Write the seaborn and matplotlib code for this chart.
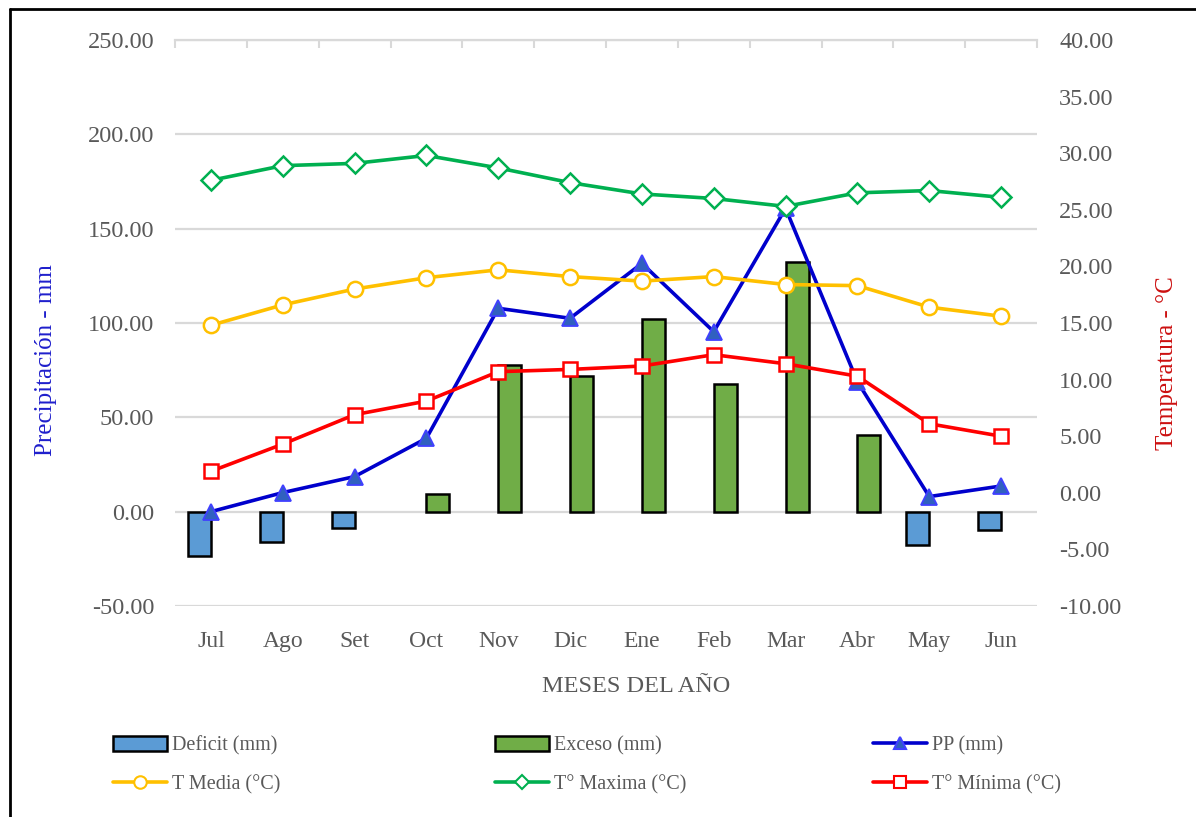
import numpy as np
import pandas as pd
import matplotlib.pyplot as plt
import seaborn as sns
from matplotlib.lines import Line2D
from matplotlib.patches import Patch
from matplotlib.ticker import FuncFormatter

meses = ["Jul", "Ago", "Set", "Oct", "Nov", "Dic", "Ene", "Feb", "Mar", "Abr", "May", "Jun"]
deficit = [-23.5, -16.0, -8.7, np.nan, np.nan, np.nan, np.nan, np.nan, np.nan, np.nan, -17.6, -9.7]
exceso = [np.nan, np.nan, np.nan, 9.2, 77.7, 72.1, 102.1, 67.5, 132.2, 40.6, np.nan, np.nan]
pp = [0.0, 10.1, 18.6, 38.9, 107.8, 102.5, 131.6, 95.4, 160.8, 68.9, 8.0, 13.6]
t_media = [14.8, 16.6, 18.0, 19.0, 19.7, 19.1, 18.7, 19.1, 18.4, 18.3, 16.4, 15.6]
t_max = [27.6, 28.9, 29.1, 29.8, 28.7, 27.4, 26.4, 26.0, 25.3, 26.5, 26.7, 26.1]
t_min = [1.9, 4.3, 6.9, 8.1, 10.7, 10.9, 11.2, 12.2, 11.4, 10.3, 6.1, 5.0]

C_DEF, C_EXC = "#5B9BD5", "#70AD47"
C_PP, C_MED, C_MAX, C_MIN = "#0000CC", "#FFC000", "#00B050", "#FF0000"
GRID = "#D9D9D9"
TXT = "#595959"

sns.set_style("white")
plt.rcParams["font.family"] = ["Liberation Serif", "DejaVu Serif"]

# missing months become 0-height bars, hidden after drawing so dodge stays fixed
bars = pd.concat([
    pd.DataFrame({"Mes": meses, "Serie": "Deficit (mm)", "Valor": deficit}),
    pd.DataFrame({"Mes": meses, "Serie": "Exceso (mm)", "Valor": exceso}),
]).fillna(0)

fig = plt.figure(figsize=(11.96, 8.17), dpi=100)
ax = fig.add_axes([175 / 1196, 1 - 606 / 817, 862 / 1196, 566 / 817])

sns.barplot(data=bars, x="Mes", y="Valor", hue="Serie", order=meses,
            hue_order=["Deficit (mm)", "Exceso (mm)"], palette=[C_DEF, C_EXC],
            saturation=1, width=0.64, edgecolor="black", linewidth=1.8, errorbar=None,
            legend=False, ax=ax)
for p in ax.patches:
    if p.get_height() == 0:
        p.set_visible(False)

x = np.arange(len(meses))
sns.lineplot(x=x, y=pp, ax=ax, color=C_PP, linewidth=2.6, marker="^", markersize=11,
             markerfacecolor="#3060C0", markeredgecolor="#4040FF", markeredgewidth=1.3, zorder=5)

ax.set_xlim(-0.5, 11.5)
ax.set_ylim(-50, 250)
ax.set_yticks(np.arange(-50, 251, 50))
ax.yaxis.set_major_formatter(FuncFormatter(lambda v, p: f"{v:.2f}"))
ax.yaxis.grid(True, color=GRID, linewidth=1.6)
ax.set_axisbelow(True)
for s in ax.spines.values():
    s.set_visible(False)
ax.tick_params(axis="y", length=0, pad=15, labelsize=17.5, labelcolor=TXT)
ax.tick_params(axis="x", length=0, pad=18, labelsize=17, labelcolor=TXT)
ax.set_ylabel("")
ax.set_xlabel("MESES DEL AÑO", fontsize=17.5, color=TXT)
ax.xaxis.set_label_coords((636 - 175) / 862, -0.124)

top = ax.secondary_xaxis("top")
top.set_xticks(np.arange(-0.5, 12, 1))
top.tick_params(direction="in", length=6, width=1.5, color=GRID, labeltop=False)
top.spines["top"].set_color(GRID)
top.spines["top"].set_linewidth(1.6)

ax2 = ax.twinx()
sns.lineplot(x=x, y=t_media, ax=ax2, color=C_MED, linewidth=2.6, marker="o", markersize=11,
             markerfacecolor="white", markeredgecolor=C_MED, markeredgewidth=1.8)
sns.lineplot(x=x, y=t_max, ax=ax2, color=C_MAX, linewidth=2.6, marker="D", markersize=10,
             markerfacecolor="white", markeredgecolor=C_MAX, markeredgewidth=1.8)
sns.lineplot(x=x, y=t_min, ax=ax2, color=C_MIN, linewidth=2.6, marker="s", markersize=10,
             markerfacecolor="white", markeredgecolor=C_MIN, markeredgewidth=1.8)
ax2.set_ylim(-10, 40)
ax2.set_yticks(np.arange(-10, 41, 5))
ax2.yaxis.set_major_formatter(FuncFormatter(lambda v, p: f"{v:.2f}"))
ax2.grid(False)
for s in ax2.spines.values():
    s.set_visible(False)
ax2.tick_params(axis="y", length=0, pad=16, labelsize=17.5, labelcolor=TXT)
ax2.set_ylabel("")

fig.text(46 / 1196, 1 - 360 / 817, "Precipitación - mm", rotation=90, ha="center", va="center",
         fontsize=18, color="#1F1FCC")
fig.text(1167 / 1196, 1 - 363 / 817, "Temperatura - °C", rotation=90, ha="center", va="center",
         fontsize=18, color="#CC1010")

# legend, three columns of two rows
def line_handle(c, m, face, edge, ms):
    return Line2D([], [], color=c, linewidth=2.6, marker=m, markersize=ms,
                  markerfacecolor=face, markeredgecolor=edge, markeredgewidth=1.5)

cols = [
    (113, [Patch(facecolor=C_DEF, edgecolor="black", linewidth=1.8),
           line_handle(C_MED, "o", "white", C_MED, 9)], ["Deficit (mm)", "T Media (°C)"]),
    (495, [Patch(facecolor=C_EXC, edgecolor="black", linewidth=1.8),
           line_handle(C_MAX, "D", "white", C_MAX, 7)], ["Exceso (mm)", "T° Maxima (°C)"]),
    (873, [line_handle(C_PP, "^", "#3060C0", "#4040FF", 9),
           line_handle(C_MIN, "s", "white", C_MIN, 8)], ["PP (mm)", "T° Mínima (°C)"]),
]
for xpx, hs, ls in cols:
    fig.legend(hs, ls, loc="center left", bbox_to_anchor=(xpx / 1196, 1 - 765 / 817),
               frameon=False, fontsize=14.5, labelcolor=TXT, handlelength=2.7,
               handleheight=0.8, handletextpad=0.25, labelspacing=0.95, borderpad=0,
               borderaxespad=0)

fig.add_artist(Line2D([9.5 / 1196, 9.5 / 1196], [0, 1 - 9 / 817], transform=fig.transFigure,
                      color="black", linewidth=2))
fig.add_artist(Line2D([9.5 / 1196, 1], [1 - 9 / 817, 1 - 9 / 817], transform=fig.transFigure,
                      color="black", linewidth=2))

fig.savefig("out.png", dpi=100)
